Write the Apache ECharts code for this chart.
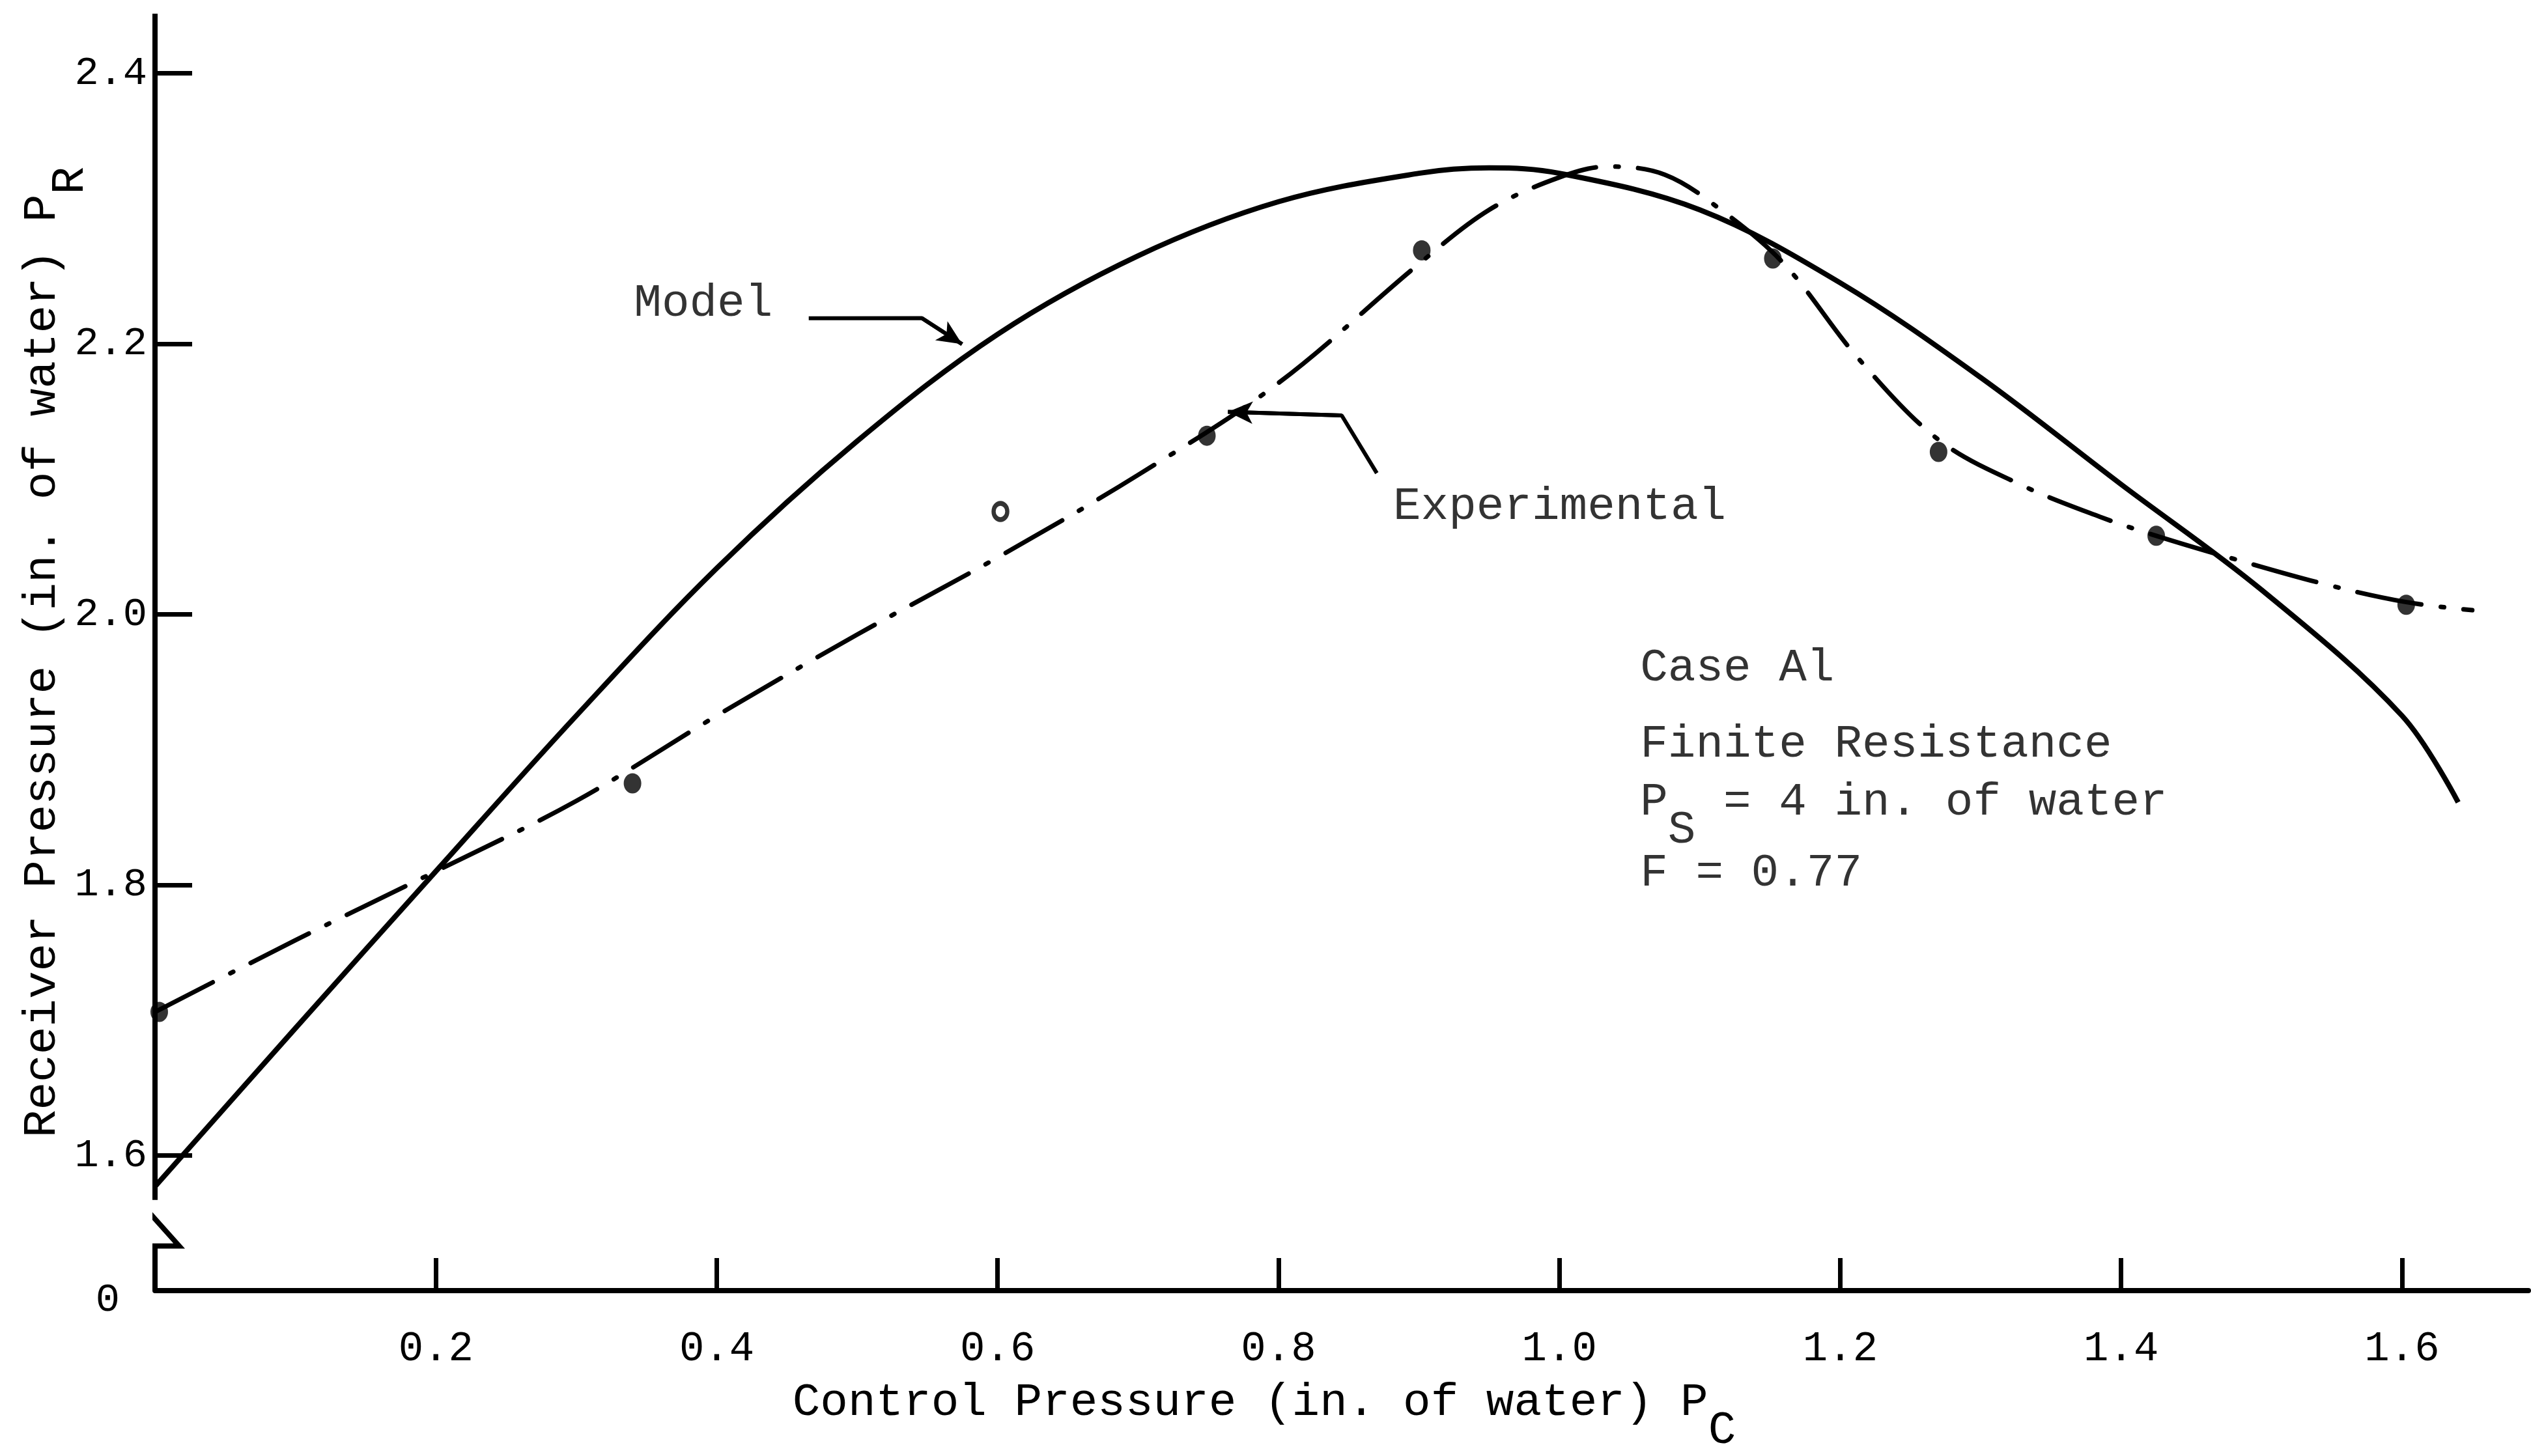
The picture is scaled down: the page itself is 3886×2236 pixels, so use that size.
<!DOCTYPE html>
<html><head><meta charset="utf-8">
<script src="https://cdn.jsdelivr.net/npm/echarts@6/dist/echarts.min.js"></script>
<style>html,body{margin:0;padding:0;background:#fff}#c{width:3886px;height:2236px}</style>
</head><body><div id="c"></div>
<script>
// ---- data ----
const xTickValues = [0.2, 0.4, 0.6, 0.8, 1.0, 1.2, 1.4, 1.6];
const yTickValues = [1.6, 1.8, 2.0, 2.2, 2.4];
const yLabelValues = [1.5, 1.6, 1.8, 2.0, 2.2, 2.4]; // 1.5 = broken origin, labelled "0"

const modelX = [0, 0.1, 0.2, 0.3, 0.4, 0.5, 0.6, 0.7, 0.8, 0.9, 0.95, 1.0, 1.1, 1.2, 1.3, 1.4, 1.5, 1.6, 1.64];
const modelY = [1.577, 1.694, 1.810, 1.925, 2.034, 2.128, 2.207, 2.265, 2.305, 2.326, 2.330, 2.326, 2.299, 2.245, 2.175, 2.096, 2.018, 1.925, 1.861];

const expCurveX = [0, 0.1, 0.2, 0.3, 0.4, 0.5, 0.6, 0.7, 0.8, 0.9, 0.95, 1.0, 1.035, 1.075, 1.115, 1.16, 1.213, 1.27, 1.328, 1.385, 1.425, 1.48, 1.546, 1.603, 1.65];
const expCurveY = [1.706, 1.759, 1.810, 1.862, 1.925, 1.985, 2.042, 2.103, 2.171, 2.259, 2.299, 2.323, 2.331, 2.325, 2.299, 2.259, 2.189, 2.129, 2.096, 2.072, 2.058, 2.041, 2.022, 2.009, 2.003];

const expPointX = [0.003, 0.340, 0.749, 0.902, 1.152, 1.270, 1.425, 1.603];
const expPointY = [1.706, 1.875, 2.132, 2.269, 2.263, 2.120, 2.058, 2.007];
const expOpenPointX = [0.602];
const expOpenPointY = [2.076];

// axis line with break
const yAxisLineX = [0, 0, -0.0138, 0.0172, 0, 0];
const yAxisLineY = [2.444, 1.569, 1.569, 1.533, 1.533, 1.5];

// annotation texts and anchor (data coords)
const annotationTexts = ['Model', 'Experimental', 'Case Al', 'Finite Resistance', '{m|P}{s|S}{m| = 4 in. of water}', 'F = 0.77'];
const annotationX = [0.341, 0.8816, 1.0575, 1.0575, 1.0575, 1.0575];
const annotationY = [2.2295, 2.0793, 1.960, 1.904, 1.861, 1.8086];

const modelArrowX = [0.4655, 0.546, 0.5747];
const modelArrowY = [2.2188, 2.219, 2.1997];
const expArrowX = [0.870, 0.845, 0.764];
const expArrowY = [2.1043, 2.147, 2.1496];

// ---- chart ----
const FONT = '"Liberation Mono", "DejaVu Sans Mono", monospace';
const zip = (xs, ys) => xs.map((x, i) => [x, ys[i]]);
const txt = {fontFamily: FONT, fontSize: 71, color: '#000'};
const sub = {fontFamily: FONT, fontSize: 71, color: '#000', padding: [86, 0, 0, 0]};

function arrowSeries(xs, ys) {
  const pts = zip(xs, ys);
  const n = pts.length;
  return {
    type: 'line', data: pts, symbol: 'none', silent: true, clip: false,
    lineStyle: {color: '#000', width: 6},
    markLine: {
      silent: true, symbol: ['none', 'arrow'], symbolSize: [26, 38],
      label: {show: false},
      lineStyle: {color: '#000', width: 6, type: 'solid'},
      emphasis: {disabled: true},
      data: [[{coord: pts[n - 2]}, {coord: pts[n - 1]}]]
    }
  };
}

const chart = echarts.init(document.getElementById('c'), null, {renderer: 'canvas'});
chart.setOption({
  animation: false,
  backgroundColor: '#fff',
  grid: {left: 238, right: 4, top: 21, bottom: 254, containLabel: false, outerBoundsMode: 'none'},
  xAxis: {
    type: 'value', min: 0, max: 1.69,
    axisLine: {show: true, lineStyle: {color: '#000', width: 8}},
    axisTick: {show: true, inside: true, length: 50, customValues: xTickValues, lineStyle: {color: '#000', width: 7}},
    axisLabel: {customValues: xTickValues, formatter: v => v.toFixed(1), margin: 58, fontFamily: FONT, fontSize: 64, color: '#000'},
    splitLine: {show: false},
    name: '{m|Control Pressure (in. of water) P}{s|C}',
    nameLocation: 'middle', nameGap: 94, nameMoveOverlap: false,
    nameTextStyle: {padding: [0, 238, 0, 0], rich: {m: txt, s: sub}}
  },
  yAxis: {
    type: 'value', min: 1.5, max: 2.444,
    axisLine: {show: false},
    axisTick: {show: true, inside: true, length: 57, customValues: yTickValues, lineStyle: {color: '#000', width: 7}},
    axisLabel: {
      customValues: yLabelValues,
      formatter: v => Math.abs(v - 1.5) < 1e-9 ? '{z|0}' : v.toFixed(1),
      margin: 12, fontFamily: FONT, fontSize: 62, color: '#000',
      rich: {z: {fontFamily: FONT, fontSize: 62, color: '#000', padding: [30, 42, 0, 0]}}
    },
    splitLine: {show: false},
    name: '{m|Receiver Pressure (in. of water) P}{s|R}',
    nameLocation: 'middle', nameGap: 94, nameMoveOverlap: false,
    nameTextStyle: {rich: {m: txt, s: sub}}
  },
  series: [
    { // y axis line with break
      type: 'line', data: zip(yAxisLineX, yAxisLineY), symbol: 'none', silent: true, clip: false,
      lineStyle: {color: '#000', width: 8, join: 'miter'}
    },
    {
      name: 'Model', type: 'line', data: zip(modelX, modelY), symbol: 'none', smooth: 0.35, silent: true,
      lineStyle: {color: '#000', width: 8}
    },
    {
      name: 'Experimental', type: 'line', data: zip(expCurveX, expCurveY), symbol: 'none', smooth: 0.35, silent: true, clip: false,
      lineStyle: {color: '#000', width: 7, type: [100, 30, 5, 30], cap: 'round'}
    },
    {
      type: 'scatter', data: zip(expPointX, expPointY), symbol: 'circle', symbolSize: [27, 31], silent: true, clip: false,
      itemStyle: {color: '#000'}
    },
    {
      type: 'scatter', data: zip(expOpenPointX, expOpenPointY), symbol: 'circle', symbolSize: [21, 25], silent: true,
      itemStyle: {color: '#fff', borderColor: '#000', borderWidth: 7}
    },
    arrowSeries(modelArrowX, modelArrowY),
    arrowSeries(expArrowX, expArrowY),
    {
      type: 'scatter', silent: true, symbolSize: 0.001, itemStyle: {color: 'rgba(0,0,0,0)'},
      data: annotationTexts.map((t, i) => ({value: [annotationX[i], annotationY[i]], label: {formatter: t}})),
      label: {show: true, position: 'right', distance: 0, fontFamily: FONT, fontSize: 71, color: '#000', rich: {m: txt, s: sub}}
    }
  ]
});
</script></body></html>
